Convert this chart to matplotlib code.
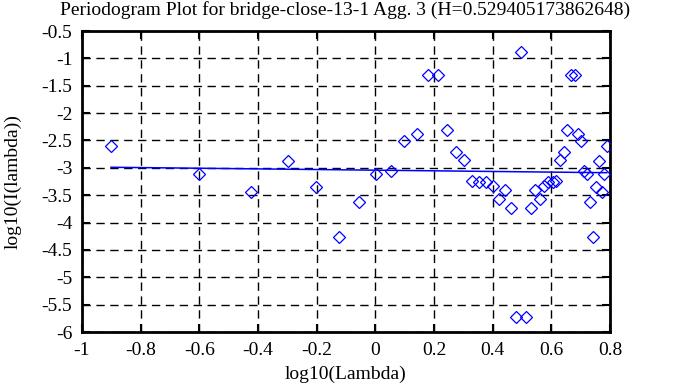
import matplotlib
matplotlib.use("Agg")
import matplotlib.pyplot as plt

title = "Periodogram Plot for bridge-close-13-1 Agg. 3 (H=0.529405173862648)"

log_lambda = [-0.901, -0.600, -0.424, -0.299, -0.202, -0.123, -0.056, 0.002,
              0.053, 0.099, 0.141, 0.178, 0.213, 0.246, 0.275, 0.303,
              0.330, 0.355, 0.378, 0.400, 0.422, 0.442, 0.461, 0.480,
              0.497, 0.514, 0.531, 0.546, 0.561, 0.576, 0.590, 0.604,
              0.617, 0.630, 0.643, 0.655, 0.667, 0.679, 0.690, 0.701,
              0.712, 0.723, 0.733, 0.743, 0.753, 0.762, 0.772, 0.781,
              0.789]
log_I = [-2.60, -3.12, -3.45, -2.87, -3.35, -4.26, -3.62, -3.12,
         -3.05, -2.51, -2.39, -1.30, -1.30, -2.31, -2.71, -2.85,
         -3.24, -3.25, -3.26, -3.33, -3.57, -3.41, -3.74, -5.72,
         -0.89, -5.72, -3.74, -3.41, -3.57, -3.33, -3.26, -3.25,
         -3.24, -2.85, -2.71, -2.31, -1.30, -1.30, -2.39, -2.51,
         -3.05, -3.12, -3.62, -4.26, -3.35, -2.87, -3.45, -3.12,
         -2.60]
fit_intercept = -3.043
fit_slope = -0.0588

xticks = [-1, -0.8, -0.6, -0.4, -0.2, 0, 0.2, 0.4, 0.6, 0.8]
xticklabels = ["-1", "-0.8", "-0.6", "-0.4", "-0.2", "0", "0.2", "0.4", "0.6", "0.8"]
yticks = [-6, -5.5, -5, -4.5, -4, -3.5, -3, -2.5, -2, -1.5, -1, -0.5]
yticklabels = ["-6", "-5.5", "-5", "-4.5", "-4", "-3.5", "-3", "-2.5", "-2", "-1.5", "-1", "-0.5"]

plt.rcParams['font.family'] = ['Liberation Serif', 'DejaVu Serif']
fs = 14

fig = plt.figure(figsize=(6.88, 3.87), dpi=100)
ax = fig.add_axes([82/688, 1-332/387, (610-82)/688, (332-31)/387])

ax.plot(log_lambda, log_I, linestyle='none', marker='D', markersize=6.6,
        markerfacecolor='none', markeredgecolor='#0000ff', markeredgewidth=0.9, zorder=3)
fit_y = [fit_intercept + fit_slope * x for x in log_lambda]
ax.plot(log_lambda, fit_y, color='#0000ff', linewidth=1.1, zorder=2)

ax.set_xlim(-1, 0.8)
ax.set_ylim(-6, -0.5)
ax.set_xticks(xticks)
ax.set_xticklabels(xticklabels, fontsize=fs)
ax.set_yticks(yticks)
ax.set_yticklabels(yticklabels, fontsize=fs)
ax.tick_params(direction='in', length=6, width=1.5, top=True, right=True, pad=7)
ax.grid(True, color='black', linestyle=(0, (6, 4)), linewidth=1.0)
for s in ax.spines.values():
    s.set_linewidth(2)

ax.set_xlabel("log10(Lambda)", fontsize=fs, labelpad=5)
ax.set_ylabel("log10(I(lambda))", fontsize=fs, labelpad=14)
fig.text(345/688, 1-10/387, title, fontsize=fs, ha='center', va='center')

fig.savefig("out.png", dpi=100)
